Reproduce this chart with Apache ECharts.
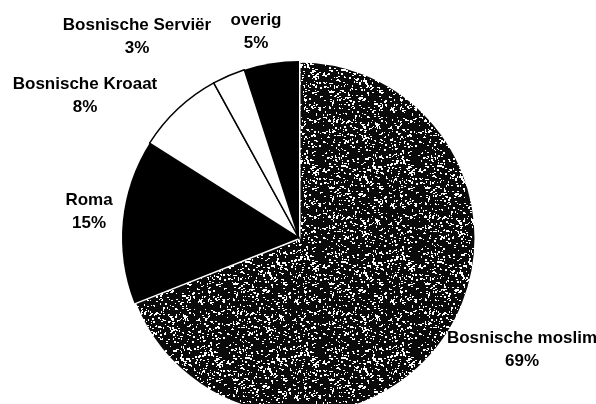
<!DOCTYPE html>
<html>
<head>
<meta charset="utf-8">
<script src="https://cdn.jsdelivr.net/npm/echarts@6/dist/echarts.min.js"></script>
<style>
html,body{margin:0;padding:0;background:#fff;}
#chart{width:596px;height:404px;}
</style>
</head>
<body>
<div id="chart"></div>
<script>
// Data
const categories = ['Bosnische moslim', 'Roma', 'Bosnische Kroaat', 'Bosnische Serviër', 'overig'];
const values = [69, 15, 8, 3, 5];

// Speckled texture for the large slice (style only, deterministic)
function makeSpeckle() {
  const c = document.createElement('canvas');
  c.width = 96; c.height = 96;
  const ctx = c.getContext('2d');
  ctx.fillStyle = '#0a0a0a';
  ctx.fillRect(0, 0, 96, 96);
  ctx.fillStyle = '#ffffff';
  let s = 12345;
  function rnd() { s = (s * 1103515245 + 12345) & 0x7fffffff; return s / 0x7fffffff; }
  for (let i = 0; i < 800; i++) {
    const x = Math.floor(rnd() * 96), y = Math.floor(rnd() * 96);
    const w = rnd() < 0.5 ? 1 : 2, h = rnd() < 0.6 ? 1 : 2;
    ctx.fillRect(x, y, w, h);
  }
  return c;
}

const styles = {
  'Bosnische moslim': { color: { image: makeSpeckle(), repeat: 'repeat' }, borderColor: '#ffffff', borderWidth: 3 },
  'Roma': { color: '#000000', borderColor: '#000000', borderWidth: 0 },
  'Bosnische Kroaat': { color: '#ffffff', borderColor: '#000000', borderWidth: 1.5 },
  'Bosnische Serviër': { color: '#ffffff', borderColor: '#000000', borderWidth: 1.5 },
  'overig': { color: '#000000', borderColor: '#000000', borderWidth: 0 }
};
const labelPos = {
  'Bosnische moslim': [522, 350],
  'Roma': [89, 212],
  'Bosnische Kroaat': [85, 96],
  'Bosnische Serviër': [137, 37],
  'overig': [256, 32]
};

const chart = echarts.init(document.getElementById('chart'), null, { renderer: 'canvas' });
chart.setOption({
  backgroundColor: '#ffffff',
  animation: false,
  series: [{
    type: 'pie',
    center: [299, 238],
    radius: 177,
    startAngle: 90,
    clockwise: true,
    avoidLabelOverlap: false,
    data: categories.map((n, i) => ({ name: n, value: values[i], itemStyle: styles[n] })),
    label: {
      show: true,
      formatter: '{b}\n{c}%',
      fontFamily: 'Liberation Sans',
      fontWeight: 'bold',
      fontSize: 17,
      lineHeight: 23,
      color: '#000',
      align: 'center'
    },
    labelLine: { show: false },
    emphasis: { disabled: true },
    labelLayout: function (p) {
      const pos = labelPos[categories[p.dataIndex]];
      return { x: pos[0], y: pos[1], align: 'center', verticalAlign: 'middle' };
    }
  }]
});
</script>
</body>
</html>
